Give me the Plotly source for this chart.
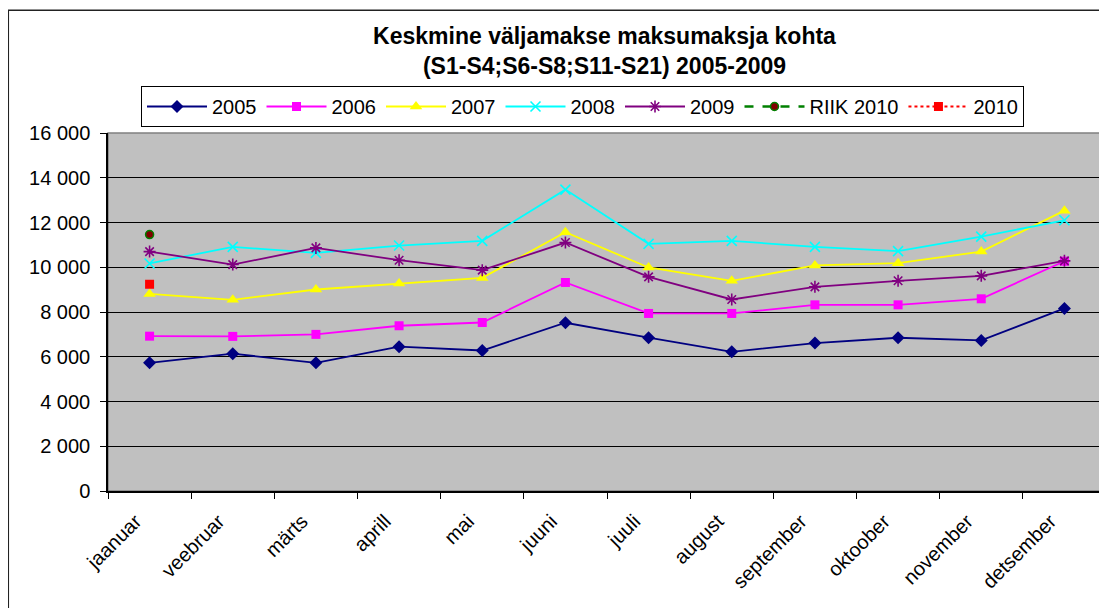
import plotly.graph_objects as go

months = ["jaanuar", "veebruar", "märts", "aprill", "mai", "juuni", "juuli",
          "august", "september", "oktoober", "november", "detsember"]

v2005 = [5730, 6135, 5730, 6450, 6280, 7520, 6850, 6220, 6610, 6850, 6730, 8160]
v2006 = [6920, 6910, 7000, 7385, 7530, 9320, 7935, 7935, 8320, 8320, 8590, 10270]
v2007 = [8810, 8545, 9005, 9275, 9525, 11565, 9990, 9395, 10080, 10180, 10700, 12530]
v2008 = [10170, 10910, 10645, 10970, 11180, 13470, 11045, 11180, 10910, 10720, 11370, 12100]
v2009 = [10700, 10120, 10865, 10315, 9870, 11105, 9570, 8560, 9125, 9395, 9615, 10285]
riik2010 = [11460]
v2010 = [9240]

ytickvals = [0, 2000, 4000, 6000, 8000, 10000, 12000, 14000, 16000]
yticktext = ["0", "2 000", "4 000", "6 000", "8 000", "10 000", "12 000", "14 000", "16 000"]

FONT = "Liberation Sans, Arial, sans-serif"
W, H = 1099, 600

fig = go.Figure()

series = [
    ("2005", v2005, "#000080", "diamond", 10, "solid"),
    ("2006", v2006, "#FF00FF", "square", 9, "solid"),
    ("2007", v2007, "#FFFF00", "triangle-up", 11, "solid"),
    ("2008", v2008, "#00FFFF", "x-thin-open", 10, "solid"),
    ("2009", v2009, "#800080", "asterisk-open", 10, "solid"),
]
for name, vals, col, sym, sz, dash in series:
    mk = dict(symbol=sym, size=sz, color=col)
    if sym.endswith("open"):
        mk["line"] = dict(color=col, width=1.6)
    fig.add_trace(go.Scatter(
        x=months, y=vals, name=name, mode="lines+markers",
        line=dict(color=col, width=1.8, dash=dash), marker=mk))

fig.add_trace(go.Scatter(
    x=months[:1], y=riik2010, name="RIIK 2010", mode="lines+markers",
    line=dict(color="#008000", width=2.5, dash="dash"),
    marker=dict(symbol="circle", size=8, color="#800000",
                line=dict(color="#008000", width=1.5))))
fig.add_trace(go.Scatter(
    x=months[:1], y=v2010, name="2010", mode="lines+markers",
    line=dict(color="#FF0000", width=2, dash="dot"),
    marker=dict(symbol="square", size=9, color="#FF0000")))

fig.update_layout(
    width=W, height=H,
    margin=dict(l=100, r=1, t=125, b=117, autoexpand=False),
    paper_bgcolor="white", plot_bgcolor="#C0C0C0",
    font=dict(family=FONT, size=20, color="black"),
    title=dict(text="<b>Keskmine väljamakse maksumaksja kohta<br>(S1-S4;S6-S8;S11-S21) 2005-2009</b>",
               font=dict(family=FONT, size=23, color="black"),
               x=0.4975, xref="paper", xanchor="center",
               y=1 - 36 / H, yref="container", yanchor="middle"),
    showlegend=True,
    legend=dict(orientation="h", xref="container", yref="container",
                x=133 / W, xanchor="left",
                y=1 - 78 / H, yanchor="top",
                bgcolor="white", bordercolor="black", borderwidth=1,
                itemwidth=60, font=dict(family=FONT, size=20),
                traceorder="normal"),
    xaxis=dict(type="category", categoryorder="array", categoryarray=months,
               range=[-0.5, 11.5], tickson="boundaries", ticks="outside",
               ticklen=6, tickcolor="black", showline=True, linecolor="black",
               linewidth=1.5, showgrid=False, tickangle=-45, automargin=False,
               ticklabelshift=-14, ticklabelstandoff=9,
               tickfont=dict(family=FONT, size=20)),
    yaxis=dict(range=[0, 16000], tickvals=ytickvals, ticktext=yticktext,
               ticks="outside", ticklen=6, tickcolor="black", showline=True,
               linecolor="black", linewidth=1.5, showgrid=True, automargin=False,
               gridcolor="black", gridwidth=1, zeroline=False,
               ticklabelstandoff=6, tickfont=dict(family=FONT, size=20)),
    shapes=[
        dict(type="rect", xref="paper", yref="paper", x0=0, x1=1, y0=0, y1=1,
             line=dict(color="#808080", width=1.5), layer="below"),
        dict(type="rect", xref="paper", yref="paper",
             x0=(0.3 - 100) / 998, x1=1.2, y0=-0.6, y1=(482.7 - 2) / 358,
             line=dict(color="#222222", width=1.5)),
    ],
)

fig.write_html("out.html")
